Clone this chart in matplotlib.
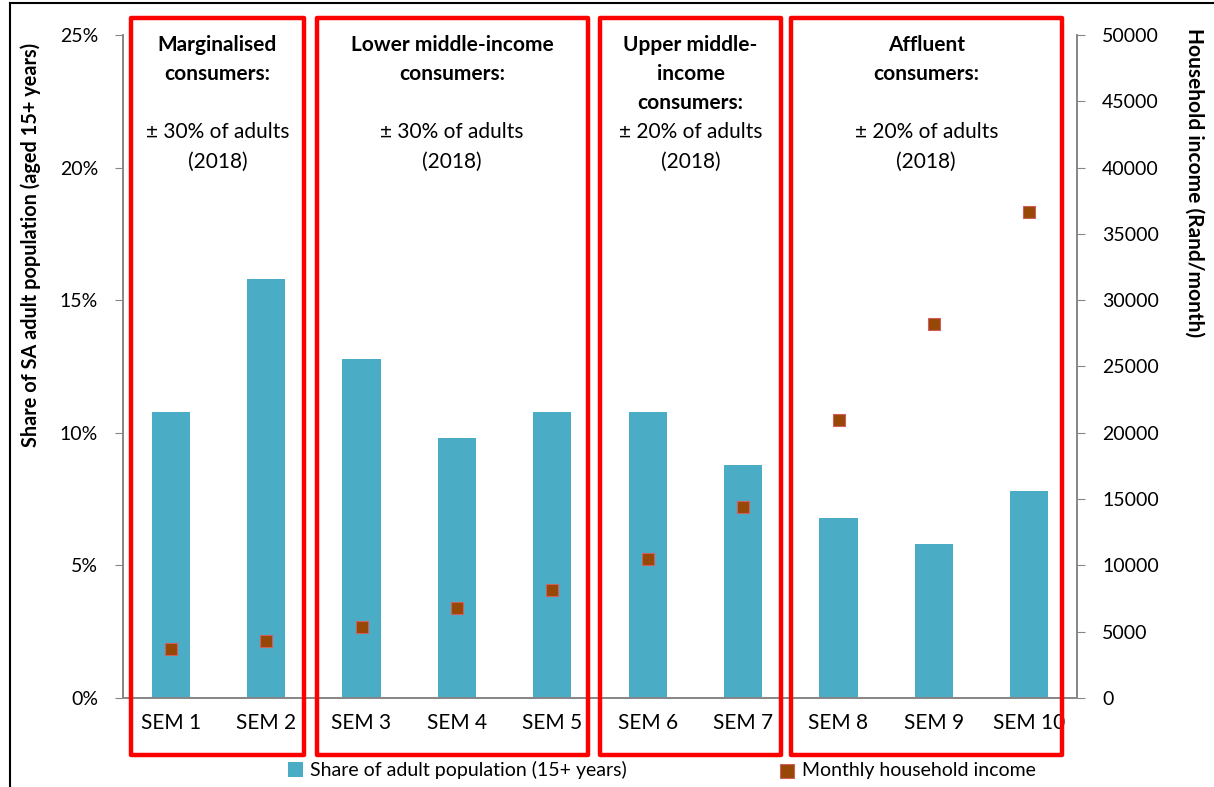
import numpy as np
import matplotlib.pyplot as plt
from matplotlib.lines import Line2D
from matplotlib.patches import Rectangle
import matplotlib.transforms as mtransforms
from matplotlib.ticker import FuncFormatter

plt.rcParams['font.family'] = ['Lato', 'DejaVu Sans']

# Data
categories = ['SEM 1', 'SEM 2', 'SEM 3', 'SEM 4', 'SEM 5',
              'SEM 6', 'SEM 7', 'SEM 8', 'SEM 9', 'SEM 10']
share_pct = [10.8, 15.8, 12.8, 9.8, 10.8, 10.8, 8.8, 6.8, 5.8, 7.8]
income = [3700, 4300, 5350, 6800, 8150, 10500, 14400, 21000, 28200, 36650]

group_titles = ['Marginalised\nconsumers:', 'Lower middle-income\nconsumers:',
                'Upper middle-\nincome\nconsumers:', 'Affluent\nconsumers:']
group_notes = ['± 30% of adults\n(2018)', '± 30% of adults\n(2018)',
               '± 20% of adults\n(2018)', '± 20% of adults\n(2018)']
group_sizes = [2, 3, 2, 3]
box_pad_left = [0.42, 0.47, 0.50, 0.50]
box_pad_right = [0.40, 0.37, 0.40, 0.34]

bar_color = '#4BACC6'
marker_color = '#974706'
axis_grey = '#868686'

fig = plt.figure(figsize=(12.14, 7.87), dpi=100)
ax = fig.add_axes([123 / 1214, 89 / 787, 954 / 1214, 663 / 787])
ax2 = ax.twinx()

x = np.arange(len(categories))
bars = ax.bar(x, share_pct, width=0.4, color=bar_color, zorder=2,
              label='Share of adult population (15+ years)')
pts = ax2.scatter(x, income, marker='s', s=85, color=marker_color,
                  edgecolor='#D06060', linewidth=0.8, zorder=3,
                  label='Monthly household income')

ax.set_xlim(-0.5, len(categories) - 0.5)
ax.set_ylim(0, 25)
ax.set_yticks(np.arange(0, 26, 5))
ax.yaxis.set_major_formatter(FuncFormatter(lambda v, p: f'{v:.0f}%'))
ax2.set_ylim(0, 50000)
ax2.set_yticks(np.arange(0, 50001, 5000))

ax.set_xticks(x)
ax.set_xticklabels(categories, fontsize=15)
ax.tick_params(axis='x', length=0, pad=11)
ax.tick_params(axis='y', labelsize=14, color=axis_grey, length=6, pad=12)
ax2.tick_params(axis='y', labelsize=14, color=axis_grey, length=6, pad=12)

for a in (ax, ax2):
    a.spines['top'].set_visible(False)
    for s in ('left', 'right', 'bottom'):
        a.spines[s].set_color(axis_grey)
        a.spines[s].set_linewidth(1.2)

ax.set_ylabel('Share of SA adult population (aged 15+ years)',
              fontsize=14.3, fontweight='bold')
ax2.set_ylabel('Household income (Rand/month)', fontsize=15,
               fontweight='bold', rotation=270)
ax.yaxis.set_label_coords(-0.086, 0.683)
ax2.yaxis.set_label_coords(1.134, 0.778)

# Red group boxes with captions
trans = mtransforms.blended_transform_factory(ax.transData, ax.transAxes)
start = 0
for title, note, size, pl, pr in zip(group_titles, group_notes, group_sizes,
                                     box_pad_left, box_pad_right):
    end = start + size - 1
    left = start - pl
    right = end + pr
    box = Rectangle((left, -0.086), right - left, 1.112, transform=trans,
                    fill=False, edgecolor='#FF0000', linewidth=3.2,
                    clip_on=False, zorder=5, joinstyle='round')
    ax2.add_patch(box)
    mid = (left + right) / 2
    ax2.text(mid, 1.0, title, transform=trans, ha='center', va='top',
             fontsize=15, fontweight='bold', linespacing=1.55)
    ax2.text(mid, 0.869, note, transform=trans, ha='center', va='top',
             fontsize=15, linespacing=1.6)
    start += size

# Legend below the chart, one entry per position
leg1 = fig.legend([bars], [bars.get_label()], loc='lower left',
                  bbox_to_anchor=(270 / 1214, -0.012), frameon=False,
                  fontsize=14, handlelength=0.8, handleheight=0.8,
                  handletextpad=0.35)
leg2 = fig.legend([pts], [pts.get_label()], loc='lower left',
                  bbox_to_anchor=(762 / 1214, -0.012), frameon=False,
                  fontsize=14, handlelength=0.8, handletextpad=0.35,
                  markerscale=1.15)

# Figure border (top and left edges visible)
fig.add_artist(Line2D([10 / 1214, 10 / 1214], [0, 1 - 3 / 787],
                      color='black', linewidth=1.5, transform=fig.transFigure))
fig.add_artist(Line2D([10 / 1214, 1], [1 - 3 / 787, 1 - 3 / 787],
                      color='black', linewidth=1.5, transform=fig.transFigure))

fig.savefig('out.png', dpi=100)
